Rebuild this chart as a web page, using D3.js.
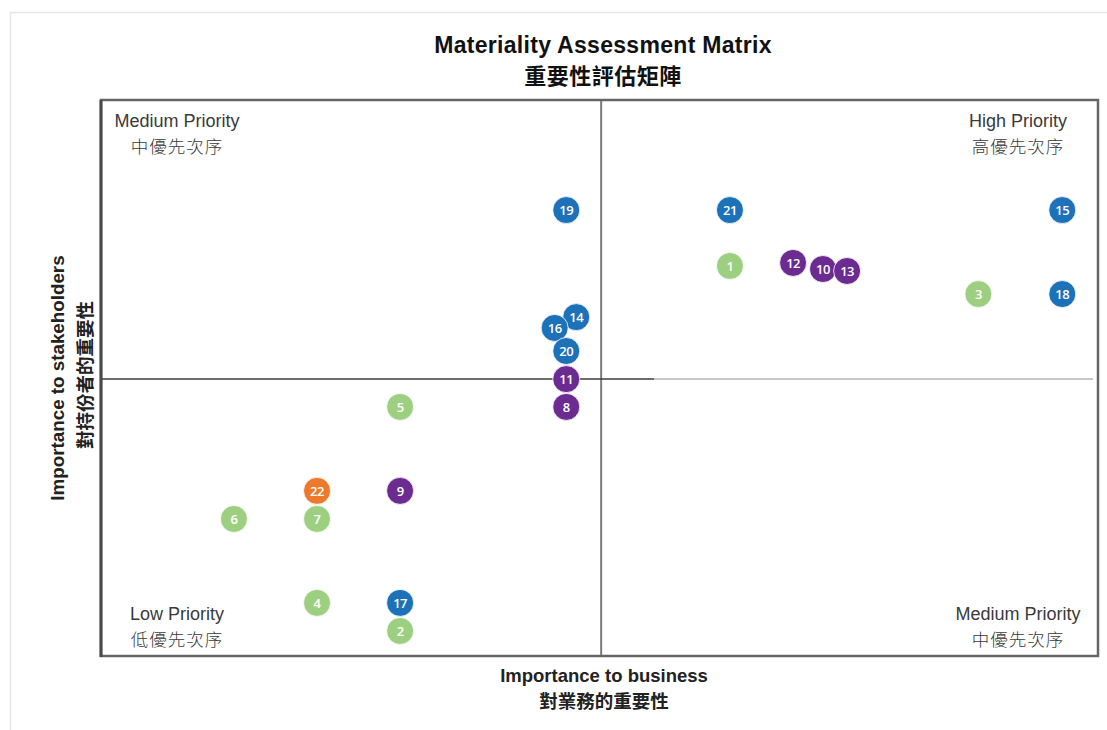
<!DOCTYPE html>
<html>
<head>
<meta charset="utf-8">
<script src="https://cdn.jsdelivr.net/npm/d3@7"></script>
<style>
  html, body { margin: 0; padding: 0; background: #fff; }
  svg { display: block; }
</style>
</head>
<body>
<svg id="chart" width="1107" height="730"></svg>
<script>
// ---- data ----
const issueIds   = [1, 2, 3, 4, 5, 6, 7, 8, 9, 10, 11, 12, 13, 14, 15, 16, 17, 18, 19, 20, 21, 22];
const businessX  = [7.57, 3.6, 10.56, 2.6, 3.6, 1.6, 2.6, 5.6, 3.6, 8.69, 5.6, 8.33, 8.98, 5.72, 11.57, 5.46, 3.6, 11.57, 5.6, 5.6, 7.57, 2.6];
const stakeY     = [14.03, 0.9, 13.02, 1.91, 8.96, 4.93, 4.93, 8.96, 5.94, 13.92, 9.96, 14.14, 13.85, 12.19, 16.04, 11.8, 1.91, 13.02, 16.04, 10.97, 16.04, 5.94];
const issueGroup = ["g", "g", "g", "g", "g", "g", "g", "p", "p", "p", "p", "p", "p", "b", "b", "b", "b", "b", "b", "b", "b", "o"];
const drawOrder  = [22, 1, 2, 3, 4, 5, 6, 7, 8, 9, 10, 11, 12, 13, 14, 16, 15, 17, 18, 19, 20, 21];
const groupColors = { g: "#9dcf80", p: "#6b2b90", b: "#1d71b8", o: "#eb7a2c" };
const xDomain = [0, 12];
const yDomain = [0, 20];
const xMid = 6.02, yMid = 9.96;
const titleLines = ["Materiality Assessment Matrix", "重要性評估矩陣"];
const xLabelLines = ["Importance to business", "對業務的重要性"];
const yLabelLines = ["Importance to stakeholders", "對持份者的重要性"];
const quadrantLabels = [
  { en: "Medium Priority", zh: "中優先次序", qx: "left",  qy: "top" },
  { en: "High Priority",   zh: "高優先次序", qx: "right", qy: "top" },
  { en: "Low Priority",    zh: "低優先次序", qx: "left",  qy: "bottom" },
  { en: "Medium Priority", zh: "中優先次序", qx: "right", qy: "bottom" }
];

// ---- layout ----
const svg = d3.select("#chart");
const L = 101, R = 1098, T = 100, B = 656;
const x = d3.scaleLinear().domain(xDomain).range([L, R]);
const y = d3.scaleLinear().domain(yDomain).range([B, T]);
const fontEn = "'Liberation Sans', Arial, Helvetica, sans-serif";
const fontZh = "'Noto Sans CJK TC', 'Noto Sans CJK SC', sans-serif";

// outer card
svg.append("rect").attr("x", 10.5).attr("y", 12.5).attr("width", 1110).attr("height", 730)
  .attr("fill", "#fff").attr("stroke", "#e4e6e8").attr("stroke-width", 1.5);

// title
svg.append("text").attr("x", 603).attr("y", 53).attr("text-anchor", "middle")
  .attr("font-family", fontEn).attr("font-weight", "bold").attr("font-size", 23).attr("fill", "#111")
  .attr("letter-spacing", 0.3)
  .text(titleLines[0]);
svg.append("text").attr("x", 603).attr("y", 84).attr("text-anchor", "middle")
  .attr("font-family", fontZh).attr("font-weight", "bold").attr("font-size", 22).attr("fill", "#111")
  .attr("letter-spacing", 0.5)
  .text(titleLines[1]);

// dividers
svg.append("line").attr("x1", x(xMid)).attr("x2", x(xMid)).attr("y1", T).attr("y2", B)
  .attr("stroke", "#7a7a7a").attr("stroke-width", 2);
svg.append("line").attr("x1", L).attr("x2", 654).attr("y1", y(yMid)).attr("y2", y(yMid))
  .attr("stroke", "#3c3c3c").attr("stroke-width", 1.5);
svg.append("line").attr("x1", 654).attr("x2", R - 5).attr("y1", y(yMid)).attr("y2", y(yMid))
  .attr("stroke", "#b5b5b5").attr("stroke-width", 1.5);

// frame
svg.append("path")
  .attr("d", `M${L},${T}H${R}V${B}H${L}Z`)
  .attr("fill", "none").attr("stroke", "#666").attr("stroke-width", 2.5);
svg.append("line").attr("x1", L).attr("x2", L).attr("y1", T).attr("y2", B + 1)
  .attr("stroke", "#4a4a4a").attr("stroke-width", 3);

// quadrant labels
const qg = svg.append("g");
quadrantLabels.forEach(q => {
  const cx = q.qx === "left" ? 177 : 1018;
  const y1 = q.qy === "top" ? 127 : 620;
  qg.append("text").attr("x", cx).attr("y", y1).attr("text-anchor", "middle")
    .attr("font-family", fontEn).attr("font-size", 18).attr("fill", "#3a3a3a").text(q.en);
  qg.append("text").attr("x", cx).attr("y", y1 + 26).attr("text-anchor", "middle")
    .attr("font-family", fontZh).attr("font-weight", 300).attr("font-size", 17.5).attr("fill", "#3a3a3a")
    .attr("letter-spacing", 1).text(q.zh);
});

// axis labels
svg.append("text").attr("x", 604).attr("y", 682).attr("text-anchor", "middle")
  .attr("font-family", fontEn).attr("font-weight", "bold").attr("font-size", 18.5).attr("fill", "#222")
  .text(xLabelLines[0]);
svg.append("text").attr("x", 604).attr("y", 708).attr("text-anchor", "middle")
  .attr("font-family", fontZh).attr("font-weight", "bold").attr("font-size", 18.5).attr("fill", "#222")
  .text(xLabelLines[1]);
svg.append("text").attr("transform", "translate(64,378) rotate(-90)").attr("text-anchor", "middle")
  .attr("font-family", fontEn).attr("font-weight", "bold").attr("font-size", 18.8).attr("fill", "#222")
  .text(yLabelLines[0]);
svg.append("text").attr("transform", "translate(92,375) rotate(-90)").attr("text-anchor", "middle")
  .attr("font-family", fontZh).attr("font-weight", "bold").attr("font-size", 18.5).attr("fill", "#222")
  .text(yLabelLines[1]);

// points
const pts = drawOrder.map(id => {
  const i = issueIds.indexOf(id);
  return { id, bx: businessX[i], sy: stakeY[i], g: issueGroup[i] };
});
const pg = svg.append("g").selectAll("g").data(pts).join("g")
  .attr("transform", d => `translate(${x(d.bx)},${y(d.sy)})`);
pg.append("circle").attr("r", 13.5).attr("fill", d => groupColors[d.g])
  .attr("stroke", "#fff").attr("stroke-width", 0.8);
pg.append("text").attr("text-anchor", "middle").attr("dy", "0.36em")
  .attr("font-family", "'Open Sans', 'Noto Sans', sans-serif").attr("font-size", 13)
  .attr("font-weight", 600).attr("fill", "#fff").attr("letter-spacing", -0.5)
  .text(d => d.id);
</script>
</body>
</html>
